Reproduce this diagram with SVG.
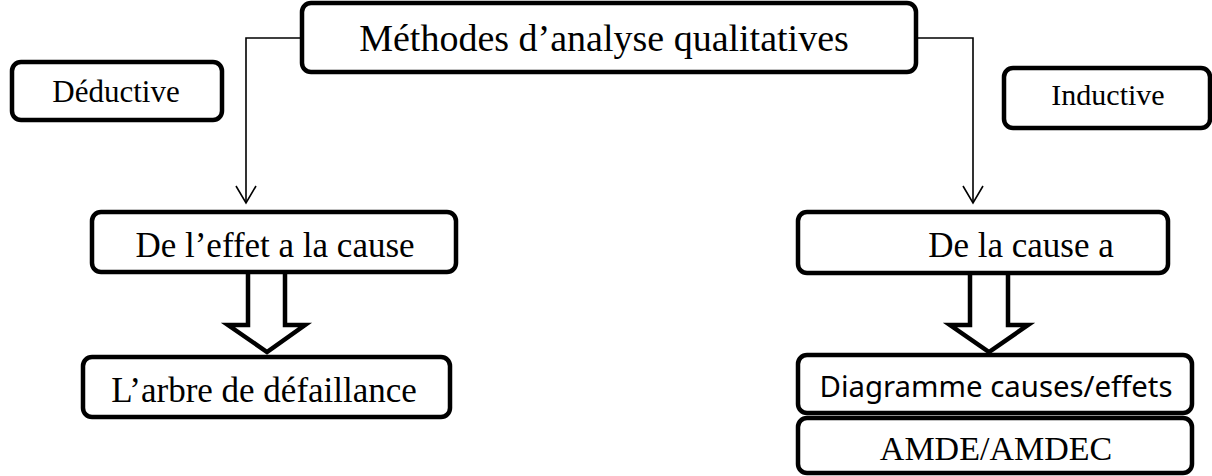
<svg xmlns="http://www.w3.org/2000/svg" width="1212" height="476" viewBox="0 0 1212 476">
  <defs>
    <style>
      .box { fill: #fff; stroke: #000; stroke-width: 4.5; }
      .link { fill: none; stroke: #000; stroke-width: 1.6; }
      .big { fill: #fff; stroke: #000; stroke-width: 4.5; stroke-linejoin: miter; }
      .serif { font-family: "Liberation Serif", "Times New Roman", serif; fill: #000; text-anchor: middle; }
      .sans { font-family: "Noto Sans", "Open Sans", sans-serif; fill: #000; text-anchor: middle; }
    </style>
    <marker id="open" viewBox="0 0 20 22" refX="18" refY="11" markerWidth="20" markerHeight="22" markerUnits="userSpaceOnUse" orient="auto">
      <path d="M1 1 L18 11 L1 21" fill="none" stroke="#000" stroke-width="1.6"/>
    </marker>
  </defs>

  <!-- connectors -->
  <g id="connectors">
    <path class="link" d="M302 38 H246 V203" marker-end="url(#open)"/>
    <path class="link" d="M916 38 H973 V203" marker-end="url(#open)"/>
    <!-- hollow block arrows -->
    <path class="big" d="M248 272 V325 H228 L267 352 L305 325 H285 V272"/>
    <path class="big" d="M970 273 V325 H950 L989 352 L1028 325 H1008 V273"/>
  </g>

  <g id="node-root">
    <rect class="box" x="302" y="3" width="614" height="69" rx="9"/>
    <text class="serif" x="604" y="51" font-size="38">Méthodes d’analyse qualitatives</text>
  </g>

  <g id="node-deductive">
    <rect class="box" x="12" y="62" width="210" height="58" rx="9"/>
    <text class="serif" x="116" y="102" font-size="31">Déductive</text>
  </g>

  <g id="node-inductive">
    <rect class="box" x="1004" y="68" width="206" height="60" rx="9"/>
    <text class="serif" x="1108" y="105" font-size="30">Inductive</text>
  </g>

  <g id="node-effet-cause">
    <rect class="box" x="92" y="212" width="364" height="60" rx="9"/>
    <text class="serif" x="275" y="257" font-size="35">De l’effet a la cause</text>
  </g>

  <g id="node-cause-effet">
    <rect class="box" x="798" y="212" width="370" height="61" rx="9"/>
    <text class="serif" x="1021" y="257" font-size="35">De la cause a</text>
  </g>

  <g id="node-arbre">
    <rect class="box" x="83" y="357" width="367" height="60" rx="9"/>
    <text class="serif" x="264" y="402" font-size="35">L’arbre de défaillance</text>
  </g>

  <g id="node-diagramme">
    <rect class="box" x="798" y="355" width="394" height="58" rx="9"/>
    <text class="sans" x="996" y="397" font-size="29" textLength="353" lengthAdjust="spacingAndGlyphs">Diagramme causes/effets</text>
  </g>

  <g id="node-amde">
    <rect class="box" x="798" y="418" width="394" height="55" rx="9"/>
    <text class="serif" x="996" y="460" font-size="34">AMDE/AMDEC</text>
  </g>
</svg>
